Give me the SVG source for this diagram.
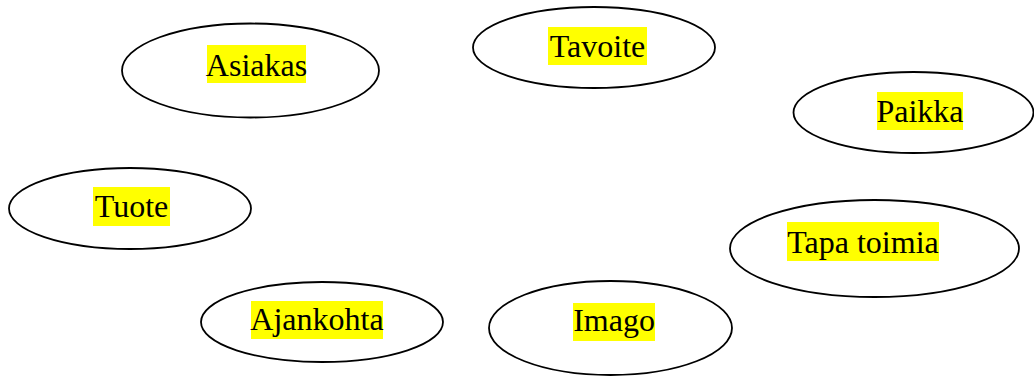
<svg xmlns="http://www.w3.org/2000/svg" width="1034" height="376" viewBox="0 0 1034 376">
<style>
.e{fill:#fff;stroke:#000;stroke-width:1.8}
.h{fill:#ffff00}
.t{font-family:"Liberation Serif","Times New Roman",serif;font-size:32px;fill:#000;text-anchor:middle}
</style>
<rect width="1034" height="376" fill="#fff"/>
<g id="connectors"></g>
<g id="asiakas">
<ellipse class="e" cx="250.5" cy="70.5" rx="128.5" ry="47"/>
<rect class="h" x="207" y="45" width="99" height="38"/>
<text class="t" x="256.5" y="76">Asiakas</text>
</g>
<g id="tavoite">
<ellipse class="e" cx="594" cy="47.5" rx="121" ry="40.5"/>
<rect class="h" x="548" y="27" width="99" height="38"/>
<text class="t" x="597.5" y="57">Tavoite</text>
</g>
<g id="paikka">
<ellipse class="e" cx="913.5" cy="112.5" rx="120" ry="40.5"/>
<rect class="h" x="877" y="92" width="86" height="38"/>
<text class="t" x="920" y="122">Paikka</text>
</g>
<g id="tuote">
<ellipse class="e" cx="130" cy="208.5" rx="121" ry="40.5"/>
<rect class="h" x="93" y="187" width="77" height="39"/>
<text class="t" x="131.5" y="217">Tuote</text>
</g>
<g id="tapa-toimia">
<ellipse class="e" cx="874.5" cy="248.5" rx="144.5" ry="48.5"/>
<rect class="h" x="787" y="222" width="152" height="39"/>
<text class="t" x="863" y="253">Tapa toimia</text>
</g>
<g id="ajankohta">
<ellipse class="e" cx="322" cy="322" rx="121" ry="40"/>
<rect class="h" x="251" y="301" width="132" height="38"/>
<text class="t" x="317" y="330">Ajankohta</text>
</g>
<g id="imago">
<ellipse class="e" cx="610.5" cy="328" rx="121.5" ry="47"/>
<rect class="h" x="573" y="303" width="82" height="38"/>
<text class="t" x="614" y="331">Imago</text>
</g>
</svg>
